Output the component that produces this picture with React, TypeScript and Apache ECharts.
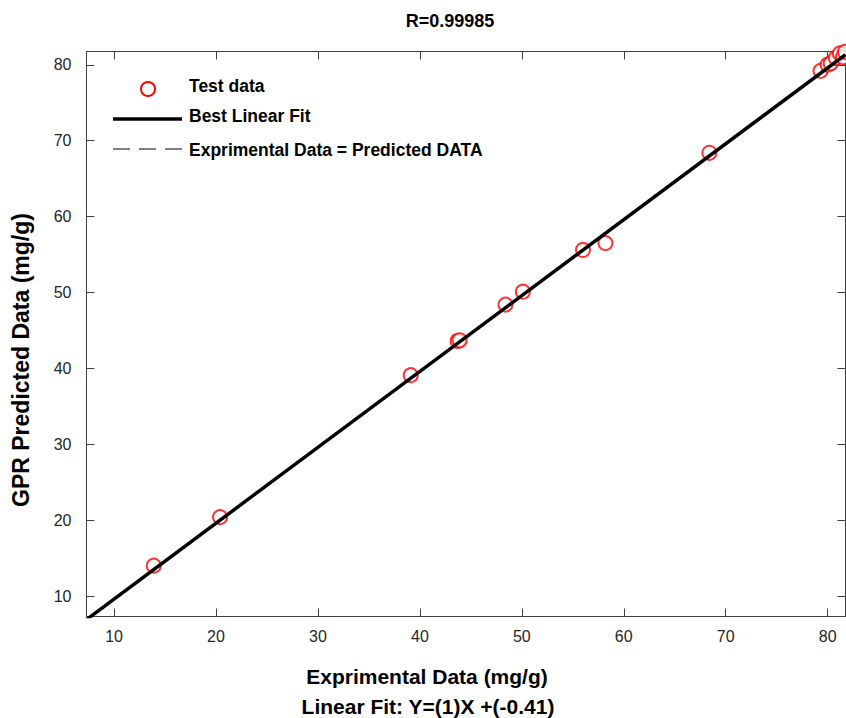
import React, { useEffect, useRef } from "react";
import * as echarts from "echarts";

// ---- data ----
const experimentalData = [13.9, 20.4, 39.1, 43.7, 43.9, 48.4, 50.1, 56.0, 58.2, 68.4, 79.3, 80.0, 80.3, 80.8, 81.2, 81.5, 81.7];
const predictedData = [14.0, 20.4, 39.1, 43.6, 43.7, 48.4, 50.1, 55.6, 56.5, 68.4, 79.2, 80.0, 80.2, 80.9, 81.5, 81.0, 81.7];
const fitSlope = 1;
const fitIntercept = -0.41;
const axisMin = 7.3;
const axisMax = 81.75;
const tickValues = [10, 20, 30, 40, 50, 60, 70, 80];
const titleText = "R=0.99985";
const xName = "Exprimental Data (mg/g)";
const yName = "GPR Predicted Data (mg/g)";
const fitText = "Linear Fit: Y=(1)X +(-0.41)";
const legendNames = ["Test data", "Best Linear Fit", "Exprimental Data = Predicted DATA"];

const FONT = "'Liberation Sans', Arial, Helvetica, sans-serif";
const AXIS_COLOR = "#262626";

export default function App() {
  const ref = useRef<HTMLDivElement>(null);
  useEffect(() => {
    if (!ref.current) return;
    const chart = echarts.init(ref.current, null, { renderer: "svg" });
    const points = experimentalData.map((x, i) => [x, predictedData[i]]);
    const fitLine = [axisMin, axisMax].map((x) => [x, fitSlope * x + fitIntercept]);

    const baseAxis = (pos: string, showLabel: boolean) => ({
      type: "value",
      position: pos,
      min: axisMin,
      max: axisMax,
      splitLine: { show: false },
      axisLine: { show: true, onZero: false, lineStyle: { color: "#404040", width: 1 } },
      axisTick: { show: true, inside: true, length: 8, customValues: tickValues, lineStyle: { color: "#404040", width: 1 } },
      axisLabel: {
        show: showLabel,
        customValues: tickValues,
        color: AXIS_COLOR,
        fontFamily: FONT,
        fontSize: 16,
        margin: pos === "bottom" ? 12 : 15,
      },
    });

    chart.setOption({
      animation: false,
      backgroundColor: "#ffffff",
      grid: { left: 86.5, right: 0.5, top: 51.5, bottom: 101.5, containLabel: false },
      xAxis: [baseAxis("bottom", true), baseAxis("top", false)],
      yAxis: [baseAxis("left", true), baseAxis("right", false)],
      series: [
        {
          name: legendNames[0],
          type: "scatter",
          data: points,
          symbol: "emptyCircle",
          symbolSize: 14,
          clip: true,
          itemStyle: { color: "#ff0000", borderColor: "#ff0000", borderWidth: 2 },
          z: 2,
        },
        {
          name: legendNames[1],
          type: "line",
          data: fitLine,
          symbol: "none",
          clip: true,
          lineStyle: { color: "#000000", width: 3.5 },
          z: 3,
        },
      ],
      graphic: [
        {
          type: "text",
          x: 450, y: 21,
          style: { text: titleText, font: `bold 18px ${FONT}`, fill: "#000", textAlign: "center", textVerticalAlign: "middle" },
        },
        {
          type: "text",
          x: 427, y: 676,
          style: { text: xName, font: `bold 21px ${FONT}`, fill: "#000", textAlign: "center", textVerticalAlign: "middle" },
        },
        {
          type: "text",
          x: 428, y: 706,
          style: { text: fitText, font: `bold 21px ${FONT}`, fill: "#000", textAlign: "center", textVerticalAlign: "middle" },
        },
        {
          type: "text",
          x: 21, y: 360,
          rotation: Math.PI / 2,
          style: { text: yName, font: `bold 23px ${FONT}`, fill: "#000", textAlign: "center", textVerticalAlign: "middle" },
        },
        // legend
        { type: "circle", shape: { cx: 148, cy: 89, r: 7 }, style: { fill: "none", stroke: "#ff0000", lineWidth: 2 } },
        { type: "text", x: 189, y: 86, style: { text: legendNames[0], font: `bold 17.5px ${FONT}`, fill: "#000", textVerticalAlign: "middle" } },
        { type: "line", shape: { x1: 113, y1: 119, x2: 182, y2: 119 }, style: { stroke: "#000", lineWidth: 3.5 } },
        { type: "text", x: 189, y: 116, style: { text: legendNames[1], font: `bold 17.5px ${FONT}`, fill: "#000", textVerticalAlign: "middle" } },
        { type: "line", shape: { x1: 113, y1: 149, x2: 182, y2: 149 }, style: { stroke: "#000", lineWidth: 1, lineDash: [17, 9] } },
        { type: "text", x: 189, y: 150, style: { text: legendNames[2], font: `bold 17.5px ${FONT}`, fill: "#000", textVerticalAlign: "middle" } },
      ],
    });
    return () => chart.dispose();
  }, []);
  return <div ref={ref} style={{ position: "absolute", left: 0, top: 0, width: 846, height: 718 }} />;
}
